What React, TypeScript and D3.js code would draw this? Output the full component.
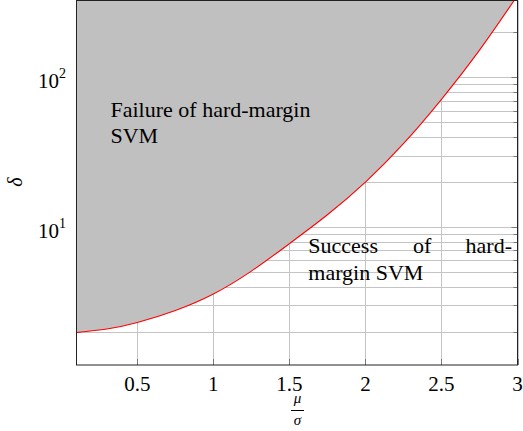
import React, { useEffect, useRef } from "react";
import * as d3 from "d3";

// values (mu/sigma -> delta)
const muSigma = [0.1, 0.3, 0.5, 0.75, 1.0, 1.25, 1.5, 1.75, 2.0, 2.25, 2.5, 2.75, 3.0];
const delta = [1.98, 2.09, 2.31, 2.78, 3.58, 5.09, 7.76, 12.1, 20, 36.1, 71.4, 152, 352];

const xTicks = [0.5, 1, 1.5, 2, 2.5, 3];
const yMajor = [10, 100];
const yMinor = [2, 3, 4, 5, 6, 7, 8, 9, 20, 30, 40, 50, 60, 70, 80, 90, 200];

const W = 523;
const H = 431;
const FONT = "Liberation Serif, Times New Roman, Times, serif";

const App = () => {
    const ref = useRef(null);

    useEffect(() => {
        const svg = d3.select(ref.current);
        svg.selectAll("*").remove();

        const left = 76.5, right = 517.5, top = 0.5, bottom = 365;
        const x = d3.scaleLinear().domain([0.1, 3]).range([left, right]);
        const y = d3.scaleLog().domain([1.202, 326]).range([bottom, top]);

        const pts = muSigma.map((m, i) => [m, delta[i]]);

        svg.append("defs")
            .append("clipPath")
            .attr("id", "plotclip")
            .append("rect")
            .attr("x", left)
            .attr("y", top)
            .attr("width", right - left)
            .attr("height", bottom - top);

        const grid = svg.append("g").attr("stroke", "#c4c4c4").attr("stroke-width", 1);
        [...yMinor, ...yMajor].forEach(v => {
            const yy = Math.round(y(v)) + 0.5;
            grid.append("line").attr("x1", left).attr("x2", right).attr("y1", yy).attr("y2", yy);
        });
        xTicks.forEach(v => {
            const xx = Math.round(x(v)) + 0.5;
            grid.append("line").attr("x1", xx).attr("x2", xx).attr("y1", top).attr("y2", bottom);
        });

        // tick marks (inside the frame)
        const ticks = svg.append("g").attr("stroke", "#777").attr("stroke-width", 1);
        yMinor.forEach(v => {
            const yy = Math.round(y(v)) + 0.5;
            ticks.append("line").attr("x1", right - 4).attr("x2", right).attr("y1", yy).attr("y2", yy);
            ticks.append("line").attr("x1", left).attr("x2", left + 4).attr("y1", yy).attr("y2", yy);
        });
        yMajor.forEach(v => {
            const yy = Math.round(y(v)) + 0.5;
            ticks.append("line").attr("x1", right - 6).attr("x2", right).attr("y1", yy).attr("y2", yy);
            ticks.append("line").attr("x1", left).attr("x2", left + 6).attr("y1", yy).attr("y2", yy);
        });
        xTicks.forEach(v => {
            const xx = Math.round(x(v)) + 0.5;
            ticks.append("line").attr("x1", xx).attr("x2", xx).attr("y1", bottom - 6).attr("y2", bottom);
        });

        const area = d3.area()
            .x(d => x(d[0]))
            .y0(top - 5)
            .y1(d => y(d[1]))
            .curve(d3.curveNatural);
        const line = d3.line()
            .x(d => x(d[0]))
            .y(d => y(d[1]))
            .curve(d3.curveNatural);

        const plot = svg.append("g").attr("clip-path", "url(#plotclip)");
        plot.append("path").attr("d", area(pts)).attr("fill", "#c0c0c0");
        plot.append("path").attr("d", line(pts)).attr("fill", "none").attr("stroke", "#ff0000").attr("stroke-width", 1.1);

        svg.append("rect")
            .attr("x", left).attr("y", top)
            .attr("width", right - left).attr("height", bottom - top)
            .attr("fill", "none").attr("stroke", "#222").attr("stroke-width", 1);

        const labels = svg.append("g").attr("font-family", FONT).attr("fill", "#000");

        labels.append("g").selectAll("text").data(xTicks).enter().append("text")
            .attr("x", d => x(d))
            .attr("y", 390.5)
            .attr("text-anchor", "middle")
            .attr("font-size", 21)
            .text(d => d3.format("")(d));

        yMajor.forEach(v => {
            const t = labels.append("text")
                .attr("x", 66)
                .attr("y", y(v) + 10.5)
                .attr("text-anchor", "end")
                .attr("font-size", 21);
            t.append("tspan").text("10");
            t.append("tspan").attr("dy", -10).attr("font-size", 14).text(Math.round(Math.log10(v)));
        });

        labels.append("text")
            .attr("transform", "translate(22,182) rotate(-90)")
            .attr("text-anchor", "middle")
            .attr("font-style", "italic")
            .attr("font-size", 20)
            .text("δ");

        labels.append("text").attr("x", 297.5).attr("y", 402.5).attr("text-anchor", "middle")
            .attr("font-style", "italic").attr("font-size", 15).text("μ");
        labels.append("line").attr("x1", 291).attr("x2", 304).attr("y1", 410.5).attr("y2", 410.5)
            .attr("stroke", "#000").attr("stroke-width", 1);
        labels.append("text").attr("x", 297.5).attr("y", 425).attr("text-anchor", "middle")
            .attr("font-style", "italic").attr("font-size", 15).text("σ");

        const note = labels.append("g").attr("font-size", 22);
        note.append("text").attr("x", 110.5).attr("y", 116.7).text("Failure of hard-margin");
        note.append("text").attr("x", 110.5).attr("y", 143.3).text("SVM");
        note.append("text").attr("x", 308.3).attr("y", 253.3).text("Success");
        note.append("text").attr("x", 413).attr("y", 253.3).text("of");
        note.append("text").attr("x", 512).attr("y", 253.3).attr("text-anchor", "end").text("hard-");
        note.append("text").attr("x", 308.3).attr("y", 280).text("margin SVM");
    }, []);

    return (
        <svg
            ref={ref}
            width={W}
            height={H}
            style={{ position: "absolute", left: 0, top: 0, background: "#fff" }}
        />
    );
};

export default App;
